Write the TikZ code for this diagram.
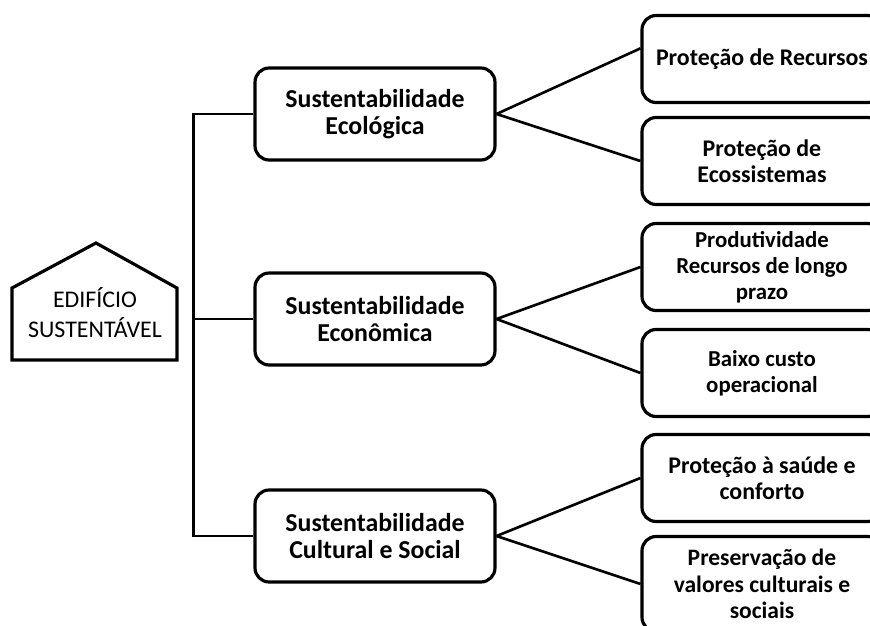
\documentclass[tikz,border=0pt]{standalone}
\usepackage{fontspec}
\setmainfont{Carlito}
\usepackage{tikz}

\begin{document}
\begin{tikzpicture}[x=0.02cm, y=-0.02cm,
	pillar/.style={draw, line width=1.8pt, rounded corners=8pt, align=center, font=\fontsize{14.7}{15.5}\selectfont\bfseries, minimum width=4.8cm, minimum height=1.84cm},
	goal/.style={draw, line width=1.8pt, rounded corners=8pt, align=center, font=\fontsize{13.6}{15}\selectfont\bfseries, minimum width=4.8cm, minimum height=1.74cm},
	link/.style={line width=1.5pt}]
	\useasboundingbox (0, 0) rectangle (870, 626);
	\coordinate (H1) at (12, 360);
	\coordinate (H2) at (177, 360);
	\coordinate (H3) at (177, 288);
	\coordinate (H4) at (96, 243);
	\coordinate (H5) at (12, 288);
	\draw [line width=1.8pt, line join=miter] (H1) -- (H2) -- (H3) -- (H4) -- (H5) -- cycle;
	\node [align=center, font=\fontsize{13.6}{17}\selectfont] (house) at (95, 313) {EDIFÍCIO\\SUSTENTÁVEL};
	\node [pillar] (eco) at (375, 114) {Sustentabilidade\\Ecológica};
	\node [pillar] (econ) at (375, 319) {Sustentabilidade\\Econômica};
	\node [pillar] (soc) at (375, 536) {Sustentabilidade\\Cultural e Social};
	\node [goal] (rec) at (762, 59) {Proteção de Recursos};
	\node [goal] (ecos) at (762, 161) {Proteção de\\Ecossistemas};
	\node [goal, font=\fontsize{13}{14.8}\selectfont\bfseries] (prod) at (762, 267) {Produtividade\\Recursos de longo\\prazo};
	\node [goal, font=\fontsize{13}{15}\selectfont\bfseries] (custo) at (762, 373) {Baixo custo\\operacional};
	\node [goal] (saude) at (762, 478) {Proteção à saúde e\\conforto};
	\node [goal, minimum height=1.9cm, font=\fontsize{13.4}{15.2}\selectfont\bfseries] (valor) at (762, 584) {Preservação de\\valores culturais e\\sociais};
	\draw [link] (eco.west) -- ++(-60, 0) |- (soc.west);
	\draw [link] (econ.west) -- ++(-60, 0);
	\draw [link] (eco.east) -- (rec.175);
	\draw [link] (eco.east) -- (ecos.west);
	\draw [link] (econ.east) -- (prod.west);
	\draw [link] (econ.east) -- (custo.west);
	\draw [link] (soc.east) -- (saude.west);
	\draw [link] (soc.east) -- (valor.west);
\end{tikzpicture}
\end{document}
